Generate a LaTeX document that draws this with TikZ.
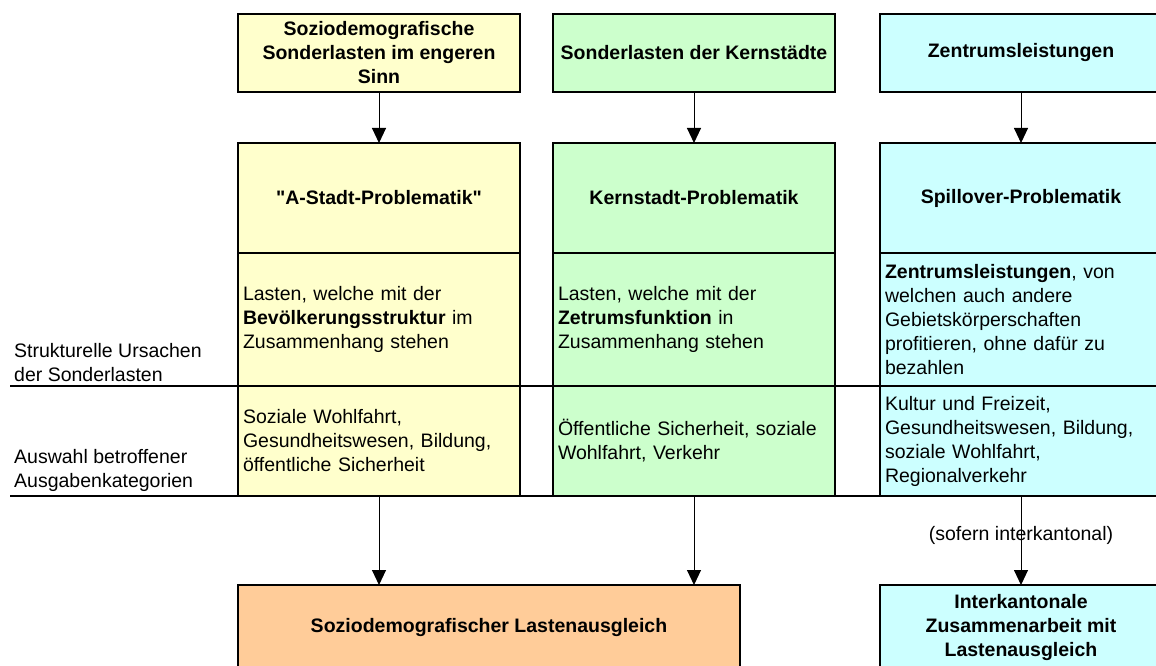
\documentclass[tikz,border=0pt]{standalone}
\usepackage{fontspec}
\setmainfont{Liberation Sans}
\usepackage{tikz}
\usetikzlibrary{arrows.meta,positioning,calc}
\definecolor{yell}{HTML}{FFFFCC}
\definecolor{mint}{HTML}{CCFFCC}
\definecolor{aqua}{HTML}{CCFFFF}
\definecolor{peach}{HTML}{FFCC99}
\tikzset{
  cell/.style={draw=black, line width=2pt, outer sep=0pt, inner xsep=5pt, inner ysep=2pt,
    minimum width=282pt, font=\fontsize{19.5}{24}\selectfont},
  head/.style={cell, align=center, minimum height=78pt, font=\fontsize{19.5}{24}\selectfont\bfseries},
  prob/.style={head, minimum height=110pt},
  sect/.style={cell, text width=272pt, align=left, minimum height=133pt},
  cats/.style={sect, minimum height=110pt},
  lbl/.style={inner sep=4pt, align=left, font=\fontsize{19.5}{24}\selectfont},
  rule/.style={line width=2pt},
  flow/.style={-{Triangle[length=15pt, width=14pt]}, line width=1pt}
}

\begin{document}
\begin{tikzpicture}[x=1pt, y=-1pt, node distance=0pt]
  \useasboundingbox (0,0) rectangle (1156,666);
  \coordinate (lft) at (10,0);
  \coordinate (rgt) at (1156,0);

  \node[head, fill=yell] (t1) at (379,53) {Soziodemografische\\Sonderlasten im engeren\\Sinn};
  \node[head, fill=mint] (t2) at (694,53) {Sonderlasten der Kernstädte};
  \node[head, fill=aqua] (t3) at (1021,53) {Zentrumsleistungen};

  \node[prob, fill=yell] (p1) at (379,198) {\textquotedbl A-Stadt-Problematik\textquotedbl};
  \node[prob, fill=mint] (p2) at (694,198) {Kernstadt-Problematik};
  \node[prob, fill=aqua] (p3) at (1021,198) {Spillover-Problematik};

  \node[sect, fill=yell, below=0pt of p1] (c1)
    {Lasten, welche mit der\\\textbf{Bevölkerungsstruktur} im\\Zusammenhang stehen};
  \node[sect, fill=mint, below=0pt of p2] (c2)
    {Lasten, welche mit der\\\textbf{Zetrumsfunktion} in\\Zusammenhang stehen};
  \node[sect, fill=aqua, below=0pt of p3] (c3)
    {\textbf{Zentrumsleistungen}, von\\welchen auch andere\\Gebietskörperschaften\\profitieren, ohne dafür zu\\bezahlen};

  \node[cats, fill=yell, below=0pt of c1] (k1)
    {Soziale Wohlfahrt,\\Gesundheitswesen, Bildung,\\öffentliche Sicherheit};
  \node[cats, fill=mint, below=0pt of c2] (k2)
    {Öffentliche Sicherheit, soziale\\Wohlfahrt, Verkehr};
  \node[cats, fill=aqua, below=0pt of c3] (k3)
    {Kultur und Freizeit,\\Gesundheitswesen, Bildung,\\soziale Wohlfahrt,\\Regionalverkehr};

  \node[head, fill=peach, minimum width=502pt, minimum height=84pt] (bal) at (489,627)
    {Soziodemografischer Lastenausgleich};
  \node[head, fill=aqua, minimum height=84pt] (ik) at (1021,627)
    {Interkantonale\\Zusammenarbeit mit\\Lastenausgleich};

  \node[lbl, anchor=south west] (ursa) at (c1.south west -| lft)
    {Strukturelle Ursachen\\der Sonderlasten};
  \node[lbl, anchor=south west] (ausw) at (k1.south west -| lft)
    {Auswahl betroffener\\Ausgabenkategorien};
  \draw[rule] (ursa.south west) -- (ursa.south west -| rgt);
  \draw[rule] (ausw.south west) -- (ausw.south west -| rgt);

  \draw[flow] (t1) -- (p1);
  \draw[flow] (t2) -- (p2);
  \draw[flow] (t3) -- (p3);
  \draw[flow] (k1) -- (k1 |- bal.north);
  \draw[flow] (k2) -- (k2 |- bal.north);
  \draw[flow] (k3) -- node[lbl, pos=0.44] {(sofern interkantonal)} (ik);
\end{tikzpicture}
\end{document}
